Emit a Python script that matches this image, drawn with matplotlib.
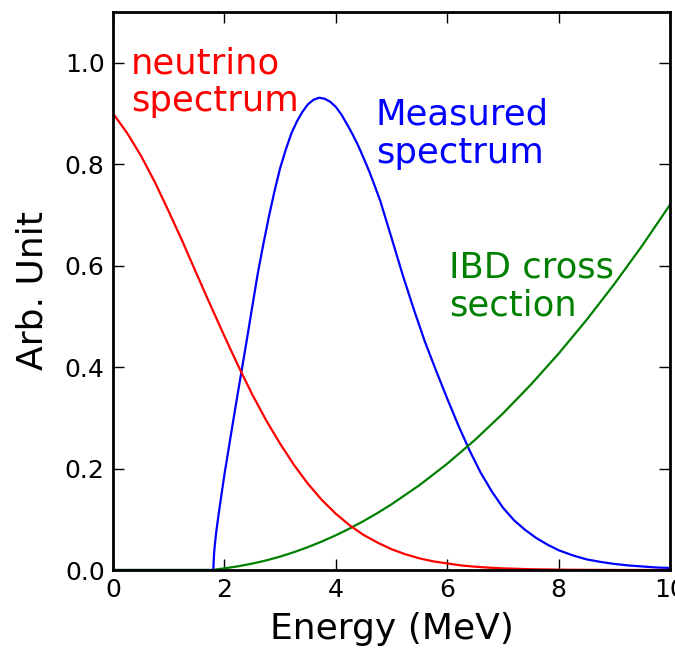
import matplotlib
matplotlib.use("Agg")
import matplotlib.pyplot as plt

# neutrino (reactor) spectrum
nu_energy = [0.0, 0.25, 0.5, 0.75, 1.0, 1.25, 1.5, 1.75, 2.0, 2.25, 2.5, 2.75,
             3.0, 3.25, 3.5, 3.75, 4.0, 4.25, 4.5, 4.75, 5.0, 5.25, 5.5, 5.75,
             6.0, 6.25, 6.5, 6.75, 7.0, 7.5, 8.0, 8.5, 9.0, 10.0]
nu_flux = [0.900, 0.862, 0.817, 0.765, 0.707, 0.647, 0.584, 0.522, 0.461, 0.402,
           0.346, 0.295, 0.249, 0.207, 0.170, 0.138, 0.111, 0.088, 0.069, 0.054,
           0.041, 0.031, 0.023, 0.017, 0.013, 0.009, 0.0065, 0.0046, 0.0032,
           0.0015, 0.0007, 0.0003, 0.0001, 0.0]

# IBD cross section
ibd_energy = [0.0, 1.8, 1.9, 2.0, 2.25, 2.5, 2.75, 3.0, 3.25, 3.5, 3.75, 4.0,
              4.25, 4.5, 4.75, 5.0, 5.5, 6.0, 6.5, 7.0, 7.5, 8.0, 8.5, 9.0,
              9.5, 10.0]
ibd_sigma = [0.0, 0.0, 0.0019, 0.0033, 0.0074, 0.0126, 0.0189, 0.0264, 0.0352,
             0.0451, 0.0562, 0.0684, 0.0819, 0.0966, 0.1124, 0.1295, 0.1671,
             0.2095, 0.2566, 0.3085, 0.3652, 0.4265, 0.4927, 0.5637, 0.6393, 0.720]

# measured (detected) spectrum
meas_energy = [0.0, 1.80, 1.805, 1.81, 1.82, 1.85, 1.9, 2.0, 2.1, 2.2, 2.3, 2.4,
               2.5, 2.6, 2.7, 2.8, 2.9, 3.0, 3.1, 3.2, 3.3, 3.4, 3.5, 3.6, 3.7,
               3.8, 3.9, 4.0, 4.1, 4.2, 4.3, 4.4, 4.5, 4.6, 4.7, 4.8, 5.0,
               5.2, 5.4, 5.6, 5.8, 6.0, 6.2, 6.4, 6.6, 6.8, 7.0, 7.2, 7.4, 7.6,
               7.8, 8.0, 8.25, 8.5, 8.75, 9.0, 9.25, 9.5, 9.75, 10.0]
meas_counts = [0.0, 0.0, 0.010, 0.024, 0.040, 0.072, 0.113, 0.188, 0.255, 0.322,
               0.387, 0.452, 0.519, 0.585, 0.643, 0.697, 0.747, 0.792, 0.828,
               0.860, 0.884, 0.903, 0.918, 0.927, 0.931, 0.929, 0.923, 0.913,
               0.898, 0.879, 0.859, 0.837, 0.812, 0.786, 0.757, 0.727, 0.655,
               0.582, 0.514, 0.450, 0.393, 0.338, 0.285, 0.236, 0.192, 0.155,
               0.123, 0.098, 0.079, 0.063, 0.050, 0.039, 0.029, 0.021, 0.016,
               0.012, 0.009, 0.007, 0.005, 0.004]

x_ticks = [0, 2, 4, 6, 8, 10]
y_ticks = [0.0, 0.2, 0.4, 0.6, 0.8, 1.0]

fig = plt.figure(figsize=(6.75, 6.5), dpi=100)
ax = fig.add_axes([113 / 675, 80 / 650, 557 / 675, 558 / 650])

ax.plot(meas_energy, meas_counts, color='#0000ff', lw=1.6)
ax.plot(ibd_energy, ibd_sigma, color='#008000', lw=1.6)
ax.plot(nu_energy, nu_flux, color='#ff0000', lw=1.6)

# baseline given for the last line of each label
ax.text(0.32, 0.904, 'neutrino\nspectrum', color='#ff0000', fontsize=25.5,
        va='baseline', linespacing=1.15)
ax.text(4.72, 0.803, 'Measured\nspectrum', color='#0000ff', fontsize=25.5,
        va='baseline', linespacing=1.15)
ax.text(6.03, 0.501, 'IBD cross\nsection', color='#008000', fontsize=25.5,
        va='baseline', linespacing=1.15)

ax.set_xlim(0, 10)
ax.set_ylim(0, 1.1)
ax.set_xticks(x_ticks)
ax.set_yticks(y_ticks)
ax.set_yticklabels(['%.1f' % v for v in y_ticks])
ax.tick_params(direction='in', length=8, width=1, top=True, right=True,
               labelsize=18, pad=6)
for sp in ax.spines.values():
    sp.set_linewidth(2)

ax.set_xlabel('Energy (MeV)', fontsize=26, labelpad=7)
ax.set_ylabel('Arb. Unit', fontsize=26, labelpad=11)

fig.savefig('out.png', dpi=100)
